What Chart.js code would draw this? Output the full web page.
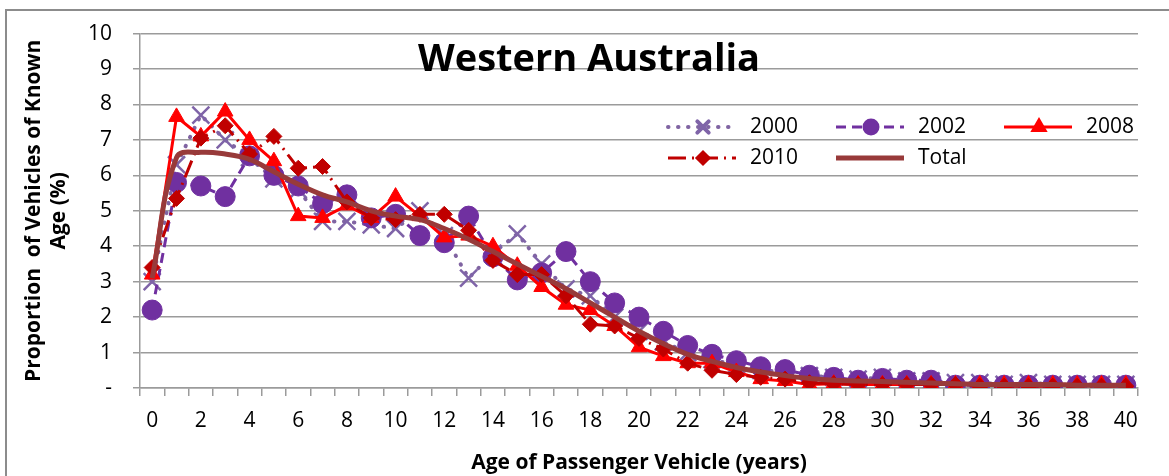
<!DOCTYPE html>
<html>
<head>
<meta charset="utf-8">
<script src="https://cdn.jsdelivr.net/npm/chart.js@4.4.1/dist/chart.umd.min.js"></script>
<style>
html, body { margin: 0; padding: 0; background: #fff; }
#wrap { position: relative; width: 1169px; height: 476px; overflow: hidden; }
#frame { position: absolute; left: 5px; top: 9px; width: 1200px; height: 500px; border-left: 2px solid #8c8c8c; border-top: 2px solid #8c8c8c; }
#grafico { position: absolute; left: 0; top: 0; }
</style>
</head>
<body>
<div id="wrap">
  <div id="frame"></div>
  <canvas id="grafico" width="1169" height="476"></canvas>
</div>
<script>
var edades = ['0', '1', '2', '3', '4', '5', '6', '7', '8', '9', '10',
    '11', '12', '13', '14', '15', '16', '17', '18', '19', '20',
    '21', '22', '23', '24', '25', '26', '27', '28', '29', '30',
    '31', '32', '33', '34', '35', '36', '37', '38', '39', '40'];

var serie2000 = [3.0, 6.3, 7.7, 7.0, 6.5, 5.9, 5.6, 4.7, 4.7, 4.6, 4.5,
    5.0, 4.3, 3.1, 3.8, 4.35, 3.5, 2.8, 2.6, 2.0, 1.6,
    1.3, 1.0, 0.8, 0.65, 0.5, 0.45, 0.35, 0.3, 0.25, 0.3,
    0.2, 0.2, 0.15, 0.15, 0.1, 0.15, 0.1, 0.1, 0.1, 0.1];

var serie2002 = [2.2, 5.8, 5.7, 5.4, 6.55, 6.0, 5.7, 5.2, 5.45, 4.8, 4.9,
    4.3, 4.1, 4.85, 3.7, 3.05, 3.25, 3.85, 3.0, 2.4, 2.0,
    1.6, 1.2, 0.95, 0.77, 0.6, 0.52, 0.36, 0.3, 0.22, 0.27,
    0.22, 0.22, 0.08, 0.08, 0.08, 0.08, 0.08, 0.08, 0.08, 0.08];

var serie2008 = [3.2, 7.65, 7.1, 7.8, 7.0, 6.4, 4.85, 4.8, 5.15, 4.8, 5.4,
    4.85, 4.25, 4.3, 4.0, 3.45, 2.85, 2.35, 2.2, 1.75, 1.15,
    0.9, 0.7, 0.7, 0.45, 0.25, 0.2, 0.1, 0.12, 0.1, 0.1,
    0.1, 0.1, 0.1, 0.1, 0.1, 0.1, 0.1, 0.1, 0.1, 0.1];

var serie2010 = [3.4, 5.35, 7.05, 7.4, 6.6, 7.1, 6.2, 6.25, 5.25, 4.8, 4.75,
    4.9, 4.9, 4.45, 3.6, 3.2, 3.2, 2.6, 1.8, 1.75, 1.4,
    1.1, 0.7, 0.5, 0.38, 0.3, 0.25, 0.15, 0.12, 0.1, 0.1,
    0.1, 0.1, 0.1, 0.05, 0.05, 0.05, 0.05, 0.05, 0.05, 0.05];

var serieTotal = [3.1, 6.5, 6.65, 6.6, 6.45, 6.1, 5.75, 5.45, 5.25, 5.0, 4.85,
    4.75, 4.5, 4.2, 3.85, 3.5, 3.15, 2.8, 2.4, 2.0, 1.6,
    1.25, 0.95, 0.75, 0.58, 0.45, 0.35, 0.27, 0.22, 0.2, 0.18,
    0.16, 0.14, 0.12, 0.1, 0.1, 0.1, 0.1, 0.08, 0.08, 0.08];

var nombresSeries = ['2000', '2002', '2008', '2010', 'Total'];

var fuente = "'Open Sans', sans-serif";
var gris = '#9b9b9b';

// titulo dentro del area del grafico
var titulo = {
    id: 'titulo',
    afterDraw: function (chart) {
        var ctx = chart.ctx;
        ctx.save();
        ctx.font = 'bold 38px ' + fuente;
        ctx.fillStyle = '#000';
        ctx.textAlign = 'center';
        ctx.textBaseline = 'middle';
        ctx.fillText('Western Australia', 589, 60);
        ctx.restore();
    }
};

// leyenda en dos filas, como en el original
var leyenda = {
    id: 'leyenda',
    afterDraw: function (chart) {
        var ctx = chart.ctx;
        var huecos = [
            { x: 668, y: 127 }, { x: 836, y: 127 }, { x: 1004, y: 127 },
            { x: 668, y: 158 }, { x: 836, y: 158 }
        ];
        var radios = [8, 7, 7, 6, 0];
        chart.data.datasets.forEach(function (ds, i) {
            var h = huecos[i];
            ctx.save();
            ctx.strokeStyle = ds.borderColor;
            ctx.lineWidth = ds.borderWidth;
            ctx.lineCap = ds.borderCapStyle || 'butt';
            ctx.setLineDash(ds.borderDash || []);
            ctx.beginPath();
            ctx.moveTo(h.x, h.y);
            ctx.lineTo(h.x + 68, h.y);
            ctx.stroke();
            ctx.setLineDash([]);
            if (radios[i] > 0) {
                ctx.fillStyle = ds.pointBackgroundColor;
                ctx.strokeStyle = ds.pointBorderColor;
                Chart.helpers.drawPoint(ctx, {
                    pointStyle: ds.pointStyle,
                    radius: radios[i],
                    borderWidth: ds.pointBorderWidth,
                    rotation: 0
                }, h.x + 35, h.y);
            }
            ctx.font = '21px ' + fuente;
            ctx.fillStyle = '#000';
            ctx.textAlign = 'left';
            ctx.textBaseline = 'middle';
            ctx.fillText(nombresSeries[i], h.x + 82, h.y);
            ctx.restore();
        });
    }
};

var ctx = document.getElementById('grafico').getContext('2d');
var myChart = new Chart(ctx, {
    type: 'line',
    data: {
        labels: edades,
        datasets: [{
            label: nombresSeries[0],
            data: serie2000,
            borderColor: '#8064a2',
            borderWidth: 4,
            borderDash: [0.5, 9.5],
            borderCapStyle: 'round',
            pointStyle: 'crossRot',
            pointRadius: 12,
            pointBorderWidth: 2.5,
            pointBorderColor: '#7f64a8',
            pointBackgroundColor: '#7f64a8',
            order: 5
        }, {
            label: nombresSeries[1],
            data: serie2002,
            borderColor: '#7030a0',
            borderWidth: 3,
            borderDash: [10, 6],
            pointStyle: 'circle',
            pointRadius: 10,
            pointBorderWidth: 1,
            pointBorderColor: '#7030a0',
            pointBackgroundColor: '#7030a0',
            order: 4
        }, {
            label: nombresSeries[2],
            data: serie2008,
            borderColor: '#ff0000',
            borderWidth: 3,
            pointStyle: 'triangle',
            pointRadius: 9,
            pointBorderWidth: 1,
            pointBorderColor: '#ff0000',
            pointBackgroundColor: '#ff0000',
            order: 3
        }, {
            label: nombresSeries[3],
            data: serie2010,
            borderColor: '#c00000',
            borderWidth: 3,
            borderDash: [18, 6, 2, 6],
            pointStyle: 'rectRot',
            pointRadius: 8,
            pointBorderWidth: 1,
            pointBorderColor: '#c00000',
            pointBackgroundColor: '#c00000',
            order: 2
        }, {
            label: nombresSeries[4],
            data: serieTotal,
            borderColor: '#983a3a',
            borderWidth: 5,
            tension: 0.4,
            pointRadius: 0,
            order: 1
        }]
    },
    options: {
        responsive: false,
        animation: false,
        layout: {
            padding: { top: 25, right: 31, left: 0, bottom: 0 }
        },
        plugins: {
            legend: { display: false },
            tooltip: { enabled: false }
        },
        scales: {
            x: {
                offset: true,
                grid: {
                    offset: true,
                    drawOnChartArea: false,
                    drawTicks: true,
                    tickLength: 8,
                    color: gris,
                    lineWidth: 1.5
                },
                border: { color: gris, width: 1.5 },
                ticks: {
                    autoSkip: false,
                    maxRotation: 0,
                    padding: 12,
                    color: '#000',
                    font: { family: fuente, size: 21 },
                    callback: function (valor, indice) {
                        return indice % 2 === 0 ? edades[indice] : '';
                    }
                },
                title: {
                    display: true,
                    text: 'Age of Passenger Vehicle (years)',
                    color: '#000',
                    font: { family: fuente, size: 21, weight: 'bold' },
                    padding: { top: 0, bottom: 0 }
                },
                afterFit: function (escala) {
                    escala.height = 88;
                }
            },
            y: {
                min: 0,
                max: 10,
                ticks: {
                    stepSize: 1,
                    padding: 21,
                    color: '#000',
                    font: { family: fuente, size: 21 },
                    callback: function (valor) {
                        return valor === 0 ? '-' : valor;
                    }
                },
                grid: {
                    color: gris,
                    lineWidth: 1.5,
                    tickLength: 7
                },
                border: { color: gris, width: 1.5 },
                title: {
                    display: true,
                    text: ['Proportion  of Vehicles of Known', 'Age (%)'],
                    color: '#000',
                    font: { family: fuente, size: 21, weight: 'bold', lineHeight: 1.2 },
                    padding: { top: 21, bottom: 0 }
                },
                afterFit: function (escala) {
                    escala.width = 140;
                }
            }
        }
    },
    plugins: [titulo, leyenda]
});
</script>
</body>
</html>
